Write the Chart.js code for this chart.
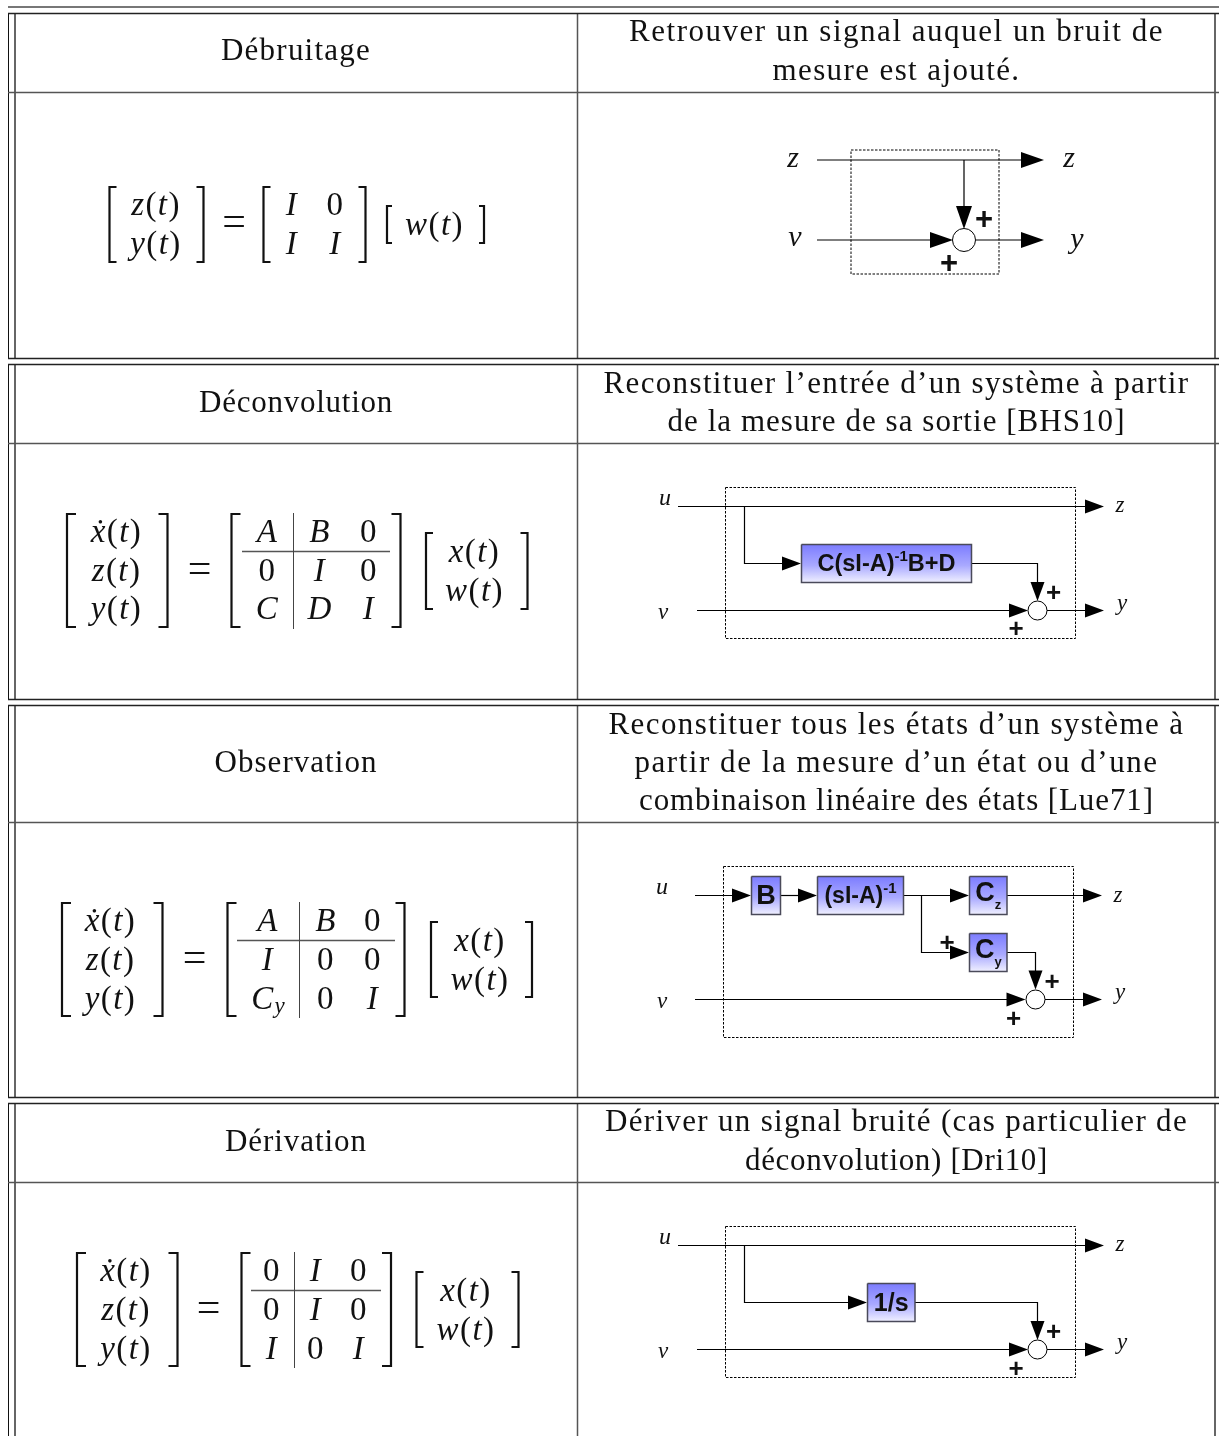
<!DOCTYPE html>
<html>
<head>
<meta charset="utf-8">
<title>Débruitage, déconvolution, observation, dérivation</title>
<script src="https://cdn.jsdelivr.net/npm/chart.js@4/dist/chart.umd.min.js"></script>
<style>
  html, body { margin: 0; padding: 0; background: #fff; overflow: hidden; }
  canvas { display: block; }
</style>
</head>
<body>
<canvas id="table" width="1219" height="1436"></canvas>
<script>
// TEXT
const rowTitles = ["Débruitage", "Déconvolution", "Observation", "Dérivation"];
const rowDescriptions = [
  ["Retrouver un signal auquel un bruit de", "mesure est ajouté."],
  ["Reconstituer l’entrée d’un système à partir", "de la mesure de sa sortie [BHS10]"],
  ["Reconstituer tous les états d’un système à", "partir de la mesure d’un état ou d’une", "combinaison linéaire des états [Lue71]"],
  ["Dériver un signal bruité (cas particulier de", "déconvolution) [Dri10]"]
];
const titleY = [52, 404, 764, 1143];
const titleWidths = [150, 194, 163, 142];
const descriptionY = [[33, 72], [385, 423], [726, 764, 802], [1123, 1162]];
const descriptionWidths = [[535, 248], [586, 458], [576, 524, 515], [583, 303]];

// TABLE RULES
const rowTops = [13, 364, 705, 1103];
const rowMids = [92, 443, 822, 1182];
const rowBottoms = [358, 699, 1097];
const columnX = [8.5, 15, 577.5, 1215];

// DIAGRAM WIRES, polylines in page units
const wires = [
  [[817, 160], [1025, 160]], [[964, 160], [964, 210]], [[817, 240], [935, 240]], [[976, 240], [1025, 240]],

  [[678, 506.5], [1088, 506.5]], [[744.5, 506.5], [744.5, 563.5], [785, 563.5]],
  [[972, 563.5], [1037.5, 563.5], [1037.5, 585]], [[697, 610.5], [1012, 610.5]], [[1047, 610.5], [1088, 610.5]],

  [[695, 895.5], [736, 895.5]], [[780, 895.5], [802, 895.5]], [[903, 895.5], [953, 895.5]],
  [[1007, 895.5], [1085, 895.5]], [[921.5, 895.5], [921.5, 952.5], [953, 952.5]],
  [[1007, 952.5], [1035.5, 952.5], [1035.5, 974]], [[695, 999.5], [1010, 999.5]], [[1045, 999.5], [1085, 999.5]],

  [[678, 1245.5], [1088, 1245.5]], [[744.5, 1245.5], [744.5, 1302.5], [852, 1302.5]],
  [[915, 1302.5], [1037.5, 1302.5], [1037.5, 1324]], [[697, 1349.5], [1012, 1349.5]], [[1047, 1349.5], [1088, 1349.5]]
];

// ARROWHEADS  [tipX, tipY, direction "r" or "d", length, half width]
const arrowheads = [
  [1044, 160, "r", 23, 8], [964, 229, "d", 23, 8], [953, 240, "r", 23, 8], [1044, 240, "r", 23, 8],

  [1104, 506.5, "r", 19, 7], [801, 563.5, "r", 19, 7], [1037.5, 601, "d", 19, 7], [1028, 610.5, "r", 19, 7], [1104, 610.5, "r", 19, 7],

  [751, 895.5, "r", 19, 7], [817, 895.5, "r", 19, 7], [969, 895.5, "r", 19, 7], [1102, 895.5, "r", 19, 7],
  [969, 952.5, "r", 19, 7], [1035.5, 989.5, "d", 19, 7], [1025.5, 999.5, "r", 19, 7], [1102, 999.5, "r", 19, 7],

  [1104, 1245.5, "r", 19, 7], [867, 1302.5, "r", 19, 7], [1037.5, 1340, "d", 19, 7], [1028, 1349.5, "r", 19, 7], [1104, 1349.5, "r", 19, 7]
];

// DASHED FRAMES, SUM NODES, BLOCKS
const frames = [[851, 150, 999, 274], [725.5, 487.5, 1075.5, 638.5], [723.5, 866.5, 1073.5, 1037.5], [725.5, 1226.5, 1075.5, 1377.5]];
const sumNodes = [[964, 240, 11.5], [1037.5, 610.5, 9.5], [1035.5, 999.5, 9.5], [1037.5, 1349.5, 9.5]];
const blocks = [[801.5, 544.5, 971.5, 582.5], [751.5, 876.5, 780.5, 914.5], [817.5, 876.5, 903.5, 914.5],
  [969.5, 876.5, 1007, 914.5], [969.5, 933.5, 1007, 971.5], [867.5, 1283.5, 915, 1321.5]];

// DIAGRAM LABELS
const plusSigns = [[984, 220, 31], [949, 264, 31], [1053.5, 594, 26], [1016, 630, 26], [947, 944, 26], [1052, 983, 26], [1013.5, 1020, 26], [1053.5, 1333, 26], [1016, 1369.5, 26]];
const signalNames = ["z", "z", "v", "y", "u", "z", "v", "y", "u", "z", "v", "y", "u", "z", "v", "y"];
const signalSpots = [[793, 159, 30], [1069, 159, 30], [795, 238, 30], [1077, 240, 30],
  [665, 499, 24], [1120, 506, 23], [663, 613, 23], [1122, 604, 23],
  [662, 888, 24], [1118, 896, 23], [662, 1002, 23], [1120, 993, 23],
  [665, 1238, 24], [1120, 1245, 23], [663, 1352, 23], [1122, 1343, 23]];
const blockLabels = [
  [{ t: "C(sI-A)", s: 23.5 }, { t: "-1", s: 15, dy: -8 }, { t: "B+D", s: 23.5 }],
  [{ t: "B", s: 27 }],
  [{ t: "(sI-A)", s: 23 }, { t: "-1", s: 15, dy: -8 }],
  [{ t: "C", s: 27, dy: -3 }, { t: "z", s: 13, dy: 8 }],
  [{ t: "C", s: 27, dy: -3 }, { t: "y", s: 13, dy: 8 }],
  [{ t: "1/s", s: 25 }]
];

// MATRICES
const matrixCells = [
  ["z(t)", "y(t)", "I", "0", "I", "I", "w(t)", "="],
  ["ẋ(t)", "z(t)", "y(t)", "A", "B", "0", "0", "I", "0", "C", "D", "I", "x(t)", "w(t)", "="],
  ["ẋ(t)", "z(t)", "y(t)", "A", "B", "0", "I", "0", "0", "C_y", "0", "I", "x(t)", "w(t)", "="],
  ["ẋ(t)", "z(t)", "y(t)", "0", "I", "0", "0", "I", "0", "I", "0", "I", "x(t)", "w(t)", "="]
];
const matrixSpots = [
  [[156, 206], [156, 245], [292, 206], [335.5, 206], [292, 245], [335.5, 245], [434.5, 226], [234, 224]],
  [[116.5, 533], [116.5, 572], [116.5, 610], [267.5, 533], [320, 533], [369, 533], [267.5, 572], [320, 572], [369, 572], [267.5, 610], [320, 610], [369, 610], [474.5, 553], [474.5, 592], [199.5, 570.5]],
  [[110.5, 922], [110.5, 961], [110.5, 1000], [268, 922], [326, 922], [373, 922], [268, 961], [326, 961], [373, 961], [268, 1000], [326, 1000], [373, 1000], [480, 942], [480, 981], [194.5, 959.5]],
  [[126, 1272], [126, 1311], [126, 1350], [272, 1272], [316, 1272], [359, 1272], [272, 1311], [316, 1311], [359, 1311], [272, 1350], [316, 1350], [359, 1350], [466, 1292], [466, 1331], [208.5, 1309.5]]
];
// [left, right, top, bottom, foot length]
const brackets = [
  [108.5, 204.5, 187, 262, 8], [262.5, 366.5, 187, 262, 8], [386, 485, 206, 243, 6],
  [66, 168.5, 514, 627, 10], [230.5, 401.5, 514, 627, 10], [425, 528.5, 533, 609, 8],
  [61, 163.5, 903, 1016, 10], [226.5, 405.5, 903, 1016, 10], [430, 533, 922, 997, 8],
  [76, 178.5, 1253, 1366, 10], [240.5, 392, 1253, 1366, 10], [415.5, 519.5, 1272, 1347, 8]
];
// partition lines of the block matrices [hx1, hx2, hy, vx, vy1, vy2]
const partitions = [
  [242, 390, 551.5, 293.5, 513, 629],
  [237, 395, 940.5, 299.5, 902, 1018],
  [251, 381, 1290.5, 294.5, 1252, 1368]
];

// DATASETS
const datasets = [];
const toPoints = pts => pts.map(p => ({ x: p[0], y: p[1] }));
const lineSet = (pts, color, width, dash) => datasets.push({
  data: toPoints(pts), showLine: true, pointRadius: 0, borderColor: color,
  borderWidth: width, borderDash: dash || [], fill: false, tension: 0
});

// table
const endY = i => i < rowBottoms.length ? rowBottoms[i] : 1436;
lineSet([[8, 7], [1219, 7]], "#777", 2);
rowTops.forEach((top, i) => {
  columnX.forEach((x, c) => {
    if (c === 0) lineSet([[x, top], [x, endY(i)]], "#111", 1);
    else lineSet([[x, top], [x, endY(i)]], c === 2 ? "#555" : "#666", c === 2 ? 1.5 : 2);
  });
  lineSet([[8, top + 0.5], [1219, top + 0.5]], "#222", 1.5);
  lineSet([[8, rowMids[i] + 0.5], [1219, rowMids[i] + 0.5]], "#555", 1.5);
  if (i < rowBottoms.length) lineSet([[8, endY(i) + 0.5], [1219, endY(i) + 0.5]], "#222", 1.5);
});

// frames go under the wires
frames.forEach(f => {
  lineSet([[f[0], f[1]], [f[2], f[1]], [f[2], f[3]], [f[0], f[3]], [f[0], f[1]]], "#000", 1, [2.5, 1.5]);
});
wires.forEach(w => lineSet(w, "#000", 1.2));

arrowheads.forEach(a => {
  const [x, y, dir, len, half] = a;
  const shape = dir === "r"
    ? [[x, y], [x - len, y - half], [x - len, y + half], [x, y]]
    : [[x, y], [x - half, y - len], [x + half, y - len], [x, y]];
  datasets.push({
    data: toPoints(shape), showLine: true, pointRadius: 0, borderColor: "#000",
    borderWidth: 0, backgroundColor: "#000", fill: "shape", tension: 0
  });
});

const tableCtx = document.getElementById("table").getContext("2d");
blocks.forEach(b => {
  // y axis runs 0..1436 on a 1436px canvas, so values are pixels here
  const g = tableCtx.createLinearGradient(0, b[1], 0, b[3]);
  g.addColorStop(0, "#7c7cff");
  g.addColorStop(0.55, "#a9a9ff");
  g.addColorStop(1, "#f0f0ff");
  datasets.push({
    data: toPoints([[b[0], b[1]], [b[2], b[1]], [b[2], b[3]], [b[0], b[3]], [b[0], b[1]]]),
    showLine: true, pointRadius: 0, borderColor: "#4a4a5a", borderWidth: 1.5, fill: "shape", tension: 0,
    backgroundColor: g
  });
});

sumNodes.forEach(n => {
  datasets.push({
    data: [{ x: n[0], y: n[1] }], showLine: false, pointRadius: n[2], pointHoverRadius: n[2],
    pointBackgroundColor: "#fff", pointBorderColor: "#000", pointBorderWidth: 1
  });
});

// matrix brackets and partitions
brackets.forEach(b => {
  const [l, r, top, bot, foot] = b;
  lineSet([[l + foot, top], [l + 1, top], [l + 1, bot], [l + foot, bot]], "#111", 2.2);
  lineSet([[r - foot, top], [r - 1, top], [r - 1, bot], [r - foot, bot]], "#111", 2.2);
});
partitions.forEach(p => {
  lineSet([[p[0], p[2]], [p[1], p[2]]], "#555", 1.5);
  lineSet([[p[3], p[4]], [p[3], p[5]]], "#444", 1);
});

// TEXT PLUGIN
const SERIF = '"Liberation Serif"';
const SANS = '"Liberation Sans"';

function drawRuns(ctx, runs, cx, cy) {
  let total = 0;
  runs.forEach(r => {
    ctx.font = r.font;
    ctx.letterSpacing = r.ls || "0px";
    r.w = ctx.measureText(r.t).width;
    total += r.w;
  });
  let x = cx - total / 2;
  runs.forEach(r => {
    ctx.font = r.font;
    ctx.letterSpacing = r.ls || "0px";
    ctx.fillText(r.t, x, cy + (r.dy || 0));
    x += r.w;
  });
}

// one line of body text, spaced out to the width it has in the picture
function drawFitted(ctx, t, cx, cy, width) {
  const font = "31px " + SERIF;
  ctx.font = font;
  ctx.letterSpacing = "0px";
  const gap = (width - ctx.measureText(t).width) / t.length;
  drawRuns(ctx, [{ t, font, ls: gap + "px" }], cx, cy);
}

function mathRuns(str) {
  const runs = [];
  for (let i = 0; i < str.length; i++) {
    const ch = str[i];
    if (ch === "_") {
      i++;
      runs.push({ t: str[i], font: "italic 23px " + SERIF, dy: 7 });
    } else if (ch === "=") {
      runs.push({ t: ch, font: "42px " + SERIF });
    } else if (/[()0]/.test(ch)) {
      runs.push({ t: ch, font: "33px " + SERIF, ls: "1.4px" });
    } else {
      runs.push({ t: ch, font: "italic 33px " + SERIF, ls: "1.4px" });
    }
  }
  return runs;
}

const textPlugin = {
  id: "tableText",
  afterDatasetsDraw(chart) {
    const ctx = chart.ctx;
    const sx = chart.scales.x, sy = chart.scales.y;
    const px = v => sx.getPixelForValue(v), py = v => sy.getPixelForValue(v);
    ctx.save();
    ctx.fillStyle = "#111";
    ctx.textBaseline = "middle";
    ctx.textAlign = "left";

    rowTitles.forEach((t, i) => drawFitted(ctx, t, px(296), py(titleY[i]), titleWidths[i]));
    rowDescriptions.forEach((lines, i) => {
      lines.forEach((t, j) => drawFitted(ctx, t, px(896.5), py(descriptionY[i][j]), descriptionWidths[i][j]));
    });
    matrixCells.forEach((cells, i) => {
      cells.forEach((t, j) => {
        const spot = matrixSpots[i][j];
        drawRuns(ctx, mathRuns(t), px(spot[0]), py(spot[1]));
      });
    });
    signalNames.forEach((t, i) => {
      const s = signalSpots[i];
      drawRuns(ctx, [{ t, font: "italic " + s[2] + "px " + SERIF }], px(s[0]), py(s[1]));
    });
    plusSigns.forEach(p => {
      drawRuns(ctx, [{ t: "+", font: "bold " + p[2] + "px " + SANS }], px(p[0]), py(p[1]));
    });
    blockLabels.forEach((runs, i) => {
      const b = blocks[i];
      const parts = runs.map(r => ({ t: r.t, font: "bold " + r.s + "px " + SANS, dy: r.dy }));
      drawRuns(ctx, parts, px((b[0] + b[2]) / 2), py((b[1] + b[3]) / 2 + 1.5));
    });
    ctx.restore();
  }
};

// CHART
new Chart(tableCtx, {
  type: "scatter",
  // chart.js paints the first dataset last
  data: { datasets: datasets.reverse() },
  options: {
    responsive: false,
    animation: false,
    events: [],
    layout: { padding: 0, autoPadding: false },
    plugins: { legend: { display: false }, tooltip: { enabled: false }, title: { display: false } },
    scales: {
      x: { type: "linear", display: false, min: 0, max: 1219 },
      y: { type: "linear", display: false, min: 0, max: 1436, reverse: true }
    }
  },
  plugins: [textPlugin]
});
</script>
</body>
</html>
